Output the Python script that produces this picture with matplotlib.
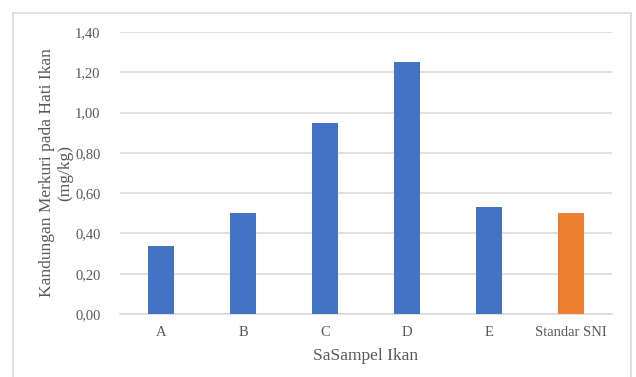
import matplotlib
matplotlib.use('Agg')
import matplotlib.pyplot as plt
from matplotlib.patches import Rectangle

# data
categories = ['A', 'B', 'C', 'D', 'E', 'Standar SNI']
values = [0.34, 0.50, 0.95, 1.25, 0.53, 0.50]
bar_colors = ['#4472c4', '#4472c4', '#4472c4', '#4472c4', '#4472c4', '#ed7d31']
y_ticks = [0.0, 0.2, 0.4, 0.6, 0.8, 1.0, 1.2, 1.4]
y_tick_labels = ['0,00', '0,20', '0,40', '0,60', '0,80', '1,00', '1,20', '1,40']

plt.rcParams['font.family'] = ['Liberation Serif', 'DejaVu Serif']
text_color = '#595959'
grid_color = '#d9d9d9'

fig = plt.figure(figsize=(6.36, 3.77), dpi=100)
fig.patch.set_facecolor('white')

# outer chart frame
fig.patches.append(Rectangle((13 / 636, -0.05), 618 / 636, 1 - 13 / 377 + 0.05,
                             transform=fig.transFigure, fill=False,
                             edgecolor=grid_color, linewidth=1.2))

ax = fig.add_axes([120 / 636, 1 - 314 / 377, 492 / 636, (314 - 32) / 377])
x = range(len(categories))
ax.bar(x, values, width=0.32, color=bar_colors, zorder=3)

ax.set_xlim(-0.5, len(categories) - 0.5)
ax.set_ylim(0, 1.4)
ax.set_yticks(y_ticks)
ax.set_yticklabels(y_tick_labels)
ax.set_xticks(list(x))
ax.set_xticklabels(categories)
ax.yaxis.grid(True, color=grid_color, linewidth=1.1, zorder=0)
ax.tick_params(axis='both', length=0, colors=text_color, labelsize=10.5)
ax.tick_params(axis='y', pad=14)
ax.tick_params(axis='x', pad=9)

for side in ['top', 'right', 'left']:
    ax.spines[side].set_visible(False)
ax.spines['bottom'].set_color(grid_color)
ax.spines['bottom'].set_linewidth(1.1)

ax.set_xlabel('SaSampel Ikan', fontsize=12.5, color=text_color, labelpad=6)
fig.text(56 / 636, 1 - 173 / 377, 'Kandungan Merkuri pada Hati Ikan\n(mg/kg)',
         rotation=90, ha='center', va='center', fontsize=12.5,
         color=text_color, linespacing=1.15, multialignment='center')

fig.savefig('out.png', dpi=100, facecolor='white')
